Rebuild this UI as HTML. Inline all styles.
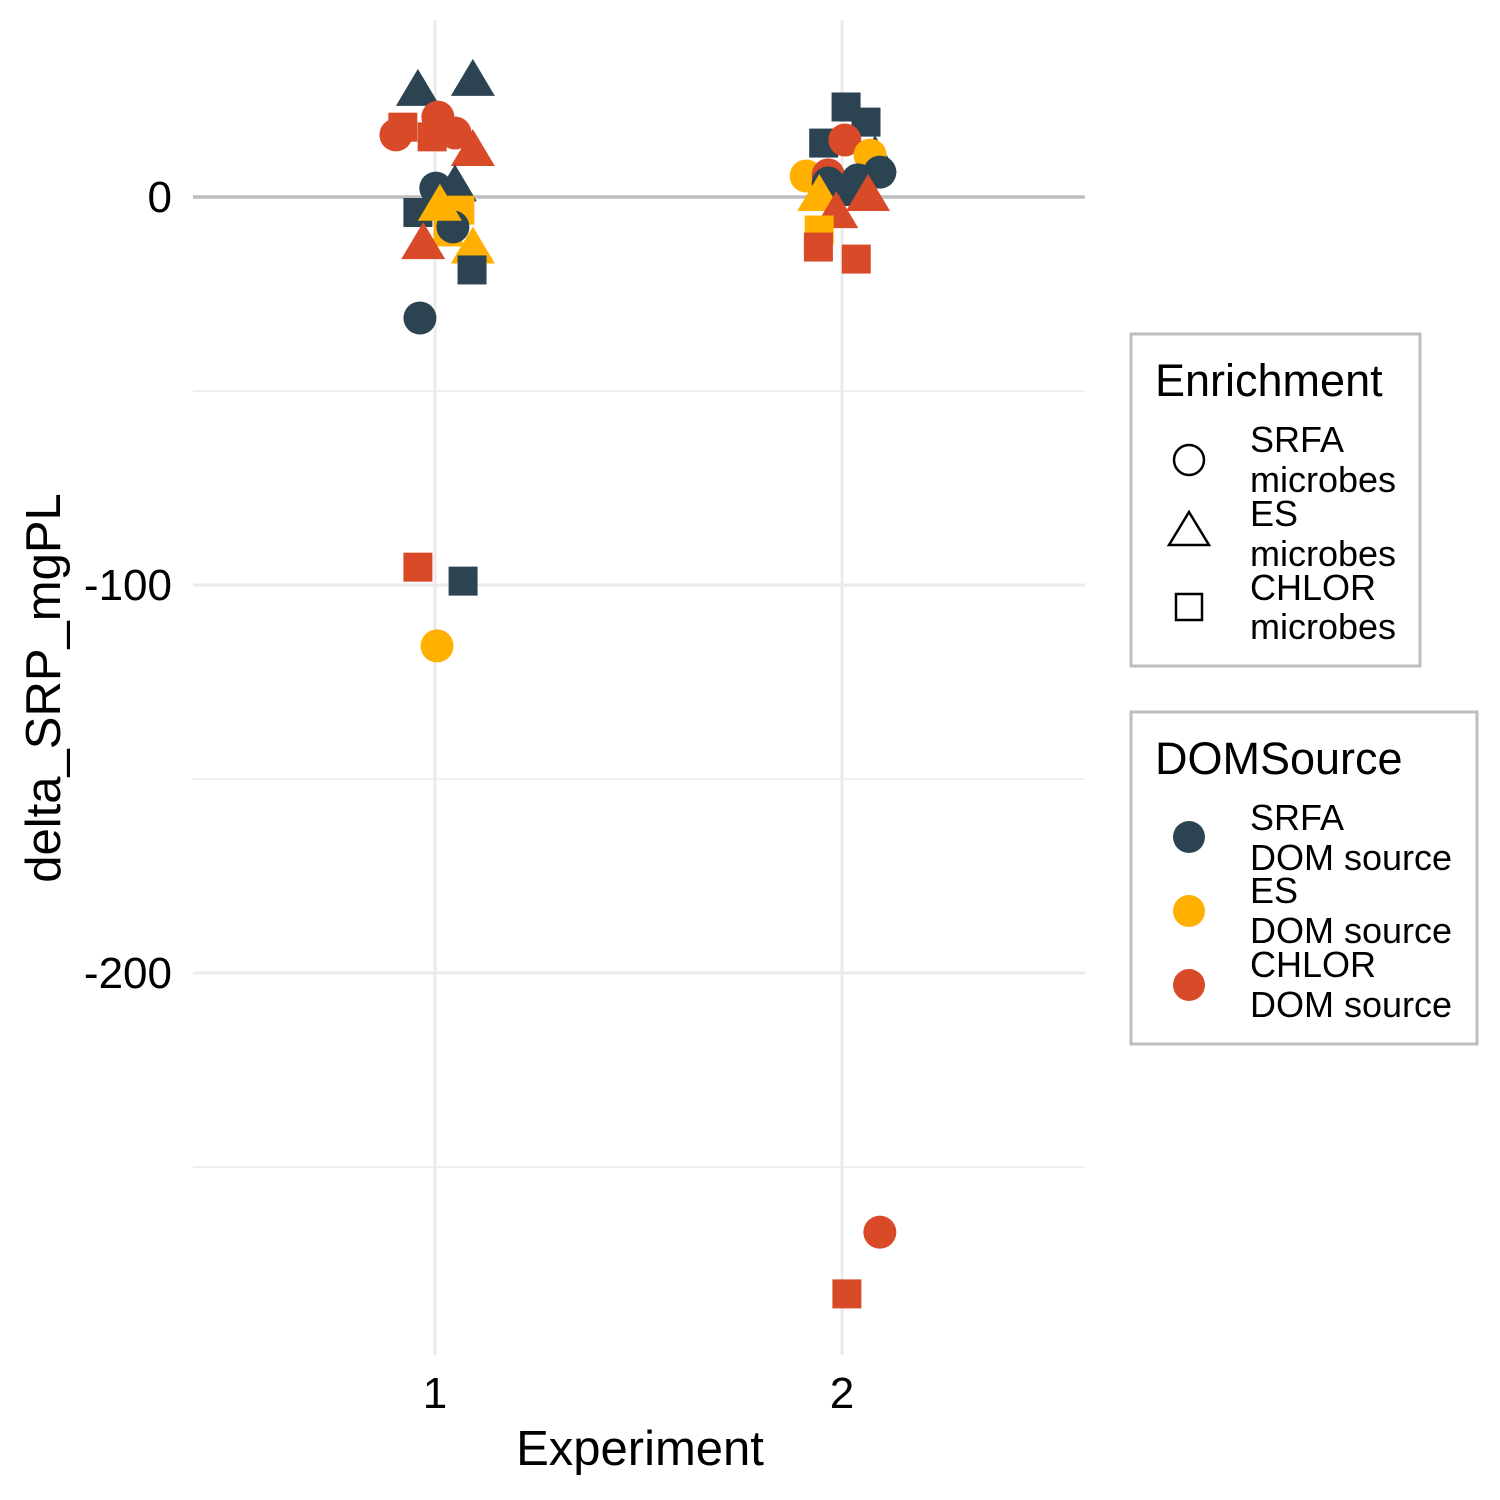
<!DOCTYPE html>
<html><head><meta charset="utf-8">
<style>
body{margin:0;background:#fff;}
svg{display:block;font-family:"Liberation Sans",Arial,sans-serif;}
</style></head>
<body>
<svg id="chart" width="1500" height="1500" viewBox="0 0 1500 1500">
<g id="grid"></g>
<g id="points"></g>
<g id="axes"></g>
<text x="640" y="1465" font-size="49" text-anchor="middle" fill="#000">Experiment</text>
<text transform="translate(60,688) rotate(-90)" font-size="49" text-anchor="middle" fill="#000">delta_SRP_mgPL</text>

<g>
<rect x="1131" y="334" width="289" height="332" fill="#fff" stroke="#bdbdbd" stroke-width="3"/>
<text x="1155" y="396" font-size="45">Enrichment</text>
<g>
<circle cx="1189" cy="460" r="15" fill="none" stroke="#000" stroke-width="2.5"/>
<text x="1250" y="452" font-size="36">SRFA</text><text x="1250" y="492" font-size="36">microbes</text></g>
<g>
<polygon points="1189,512 1209,545 1169,545" fill="none" stroke="#000" stroke-width="2.5"/>
<text x="1250" y="526" font-size="36">ES</text><text x="1250" y="566" font-size="36">microbes</text></g>
<g>
<rect x="1176" y="594" width="26" height="26" fill="none" stroke="#000" stroke-width="2.5"/>
<text x="1250" y="600" font-size="36">CHLOR</text><text x="1250" y="639" font-size="36">microbes</text></g>
</g>

<g>
<rect x="1131" y="712" width="346" height="332" fill="#fff" stroke="#bdbdbd" stroke-width="3"/>
<text x="1155" y="774" font-size="45">DOMSource</text>
<g>
<circle cx="1189" cy="837" r="16" fill="#2c4452"/>
<text x="1250" y="830" font-size="36">SRFA</text><text x="1250" y="870" font-size="36">DOM source</text></g>
<g>
<circle cx="1189" cy="911" r="16" fill="#ffb000"/>
<text x="1250" y="903" font-size="36">ES</text><text x="1250" y="943" font-size="36">DOM source</text></g>
<g>
<circle cx="1189" cy="985" r="16" fill="#d94a28"/>
<text x="1250" y="977" font-size="36">CHLOR</text><text x="1250" y="1017" font-size="36">DOM source</text></g>
</g>
</svg>
<script>
// data
const xVals=[0.958,1.093,0.921,1.007,0.904,0.993,1.049,1.093,1.002,1.049,0.958,1.061,1.032,1.044,0.971,1.093,1.012,1.091,0.963,1.005,1.069,
 2.010,2.059,1.955,2.007,2.081,2.069,1.912,1.966,1.966,2.039,2.093,2.032,2.064,1.944,1.986,1.944,1.942,2.035,2.093,0.958];
const yVals=[27.6,30.2,18,20.6,16,15.5,16.5,12.1,2.3,3,-4,-3.4,-9,-7.7,-11.9,-13,-2,-18.8,-31.2,-115.7,-99,
 23.2,19.3,13.9,14.7,10.5,10.8,5.4,5.7,3.6,4.4,6.4,1.8,0.5,0.5,-3.9,-8.5,-12.9,-16,-266.8,-95.4];
const shapes=['tri','tri','sq','circ','circ','sq','circ','tri','circ','tri','sq','sq','sq','circ','tri','tri','tri','sq','circ','circ','sq',
 'sq','sq','sq','circ','tri','circ','circ','circ','circ','circ','circ','tri','tri','tri','tri','sq','sq','sq','circ','sq'];
const groups=['SRFA','SRFA','CHLOR','CHLOR','CHLOR','CHLOR','CHLOR','CHLOR','SRFA','SRFA','SRFA','ES','ES','SRFA','CHLOR','ES','ES','SRFA','SRFA','ES','SRFA',
 'SRFA','SRFA','SRFA','CHLOR','SRFA','ES','ES','CHLOR','SRFA','SRFA','SRFA','SRFA','CHLOR','ES','CHLOR','ES','CHLOR','CHLOR','CHLOR','CHLOR'];
const extraX=[2.012], extraY=[-282.7], extraShape=['sq'], extraGroup=['CHLOR'];
const yTicks=[0,-100,-200];
const yTickLabels=['0','-100','-200'];
const yMinor=[-50,-150,-250];
const xTicks=[1,2];
const xTickLabels=['1','2'];
const colors={SRFA:'#2c4452',ES:'#ffb000',CHLOR:'#d94a28'};

const NS='http://www.w3.org/2000/svg';
const X=v=>435+(v-1)*407;
const Y=v=>197-v*3.88;
const grid=document.getElementById('grid'),pts=document.getElementById('points'),axes=document.getElementById('axes');
function mk(tag,attrs,parent){const e=document.createElementNS(NS,tag);for(const k in attrs)e.setAttribute(k,attrs[k]);parent.appendChild(e);return e;}
yMinor.forEach(v=>{const l=mk('line',{x1:193,x2:1085,y1:Y(v),y2:Y(v),stroke:'#f0f0f0','stroke-width':2},grid);

});
yTicks.forEach((v,i)=>{const l=mk('line',{x1:193,x2:1085,y1:Y(v),y2:Y(v),stroke:'#ebebeb','stroke-width':3},grid);


const t=mk('text',{x:172,y:Y(v)+15,'font-size':44,'text-anchor':'end',fill:'#000'},axes);t.textContent=yTickLabels[i];

});
xTicks.forEach((v,i)=>{const l=mk('line',{x1:X(v),x2:X(v),y1:20,y2:1355,stroke:'#ebebeb','stroke-width':3},grid);


const t=mk('text',{x:X(v),y:1408,'font-size':44,'text-anchor':'middle',fill:'#000'},axes);t.textContent=xTickLabels[i];

});
const h=mk('line',{x1:193,x2:1085,y1:Y(0),y2:Y(0),stroke:'#bebebe','stroke-width':3.5},grid);


function draw(x,y,s,g){const cx=X(x),cy=Y(y),c=colors[g];let e;
 if(s==='circ')e=mk('circle',{cx:cx,cy:cy,r:16.5,fill:c},pts);
 else if(s==='sq')e=mk('rect',{x:cx-14.5,y:cy-14.5,width:29,height:29,fill:c},pts);
 else e=mk('polygon',{points:`${cx},${cy-21} ${cx+22},${cy+16} ${cx-22},${cy+16}`,fill:c},pts);
 
 }
for(let i=0;i<xVals.length;i++)draw(xVals[i],yVals[i],shapes[i],groups[i]);
for(let i=0;i<extraX.length;i++)draw(extraX[i],extraY[i],extraShape[i],extraGroup[i]);
</script>
</body></html>
